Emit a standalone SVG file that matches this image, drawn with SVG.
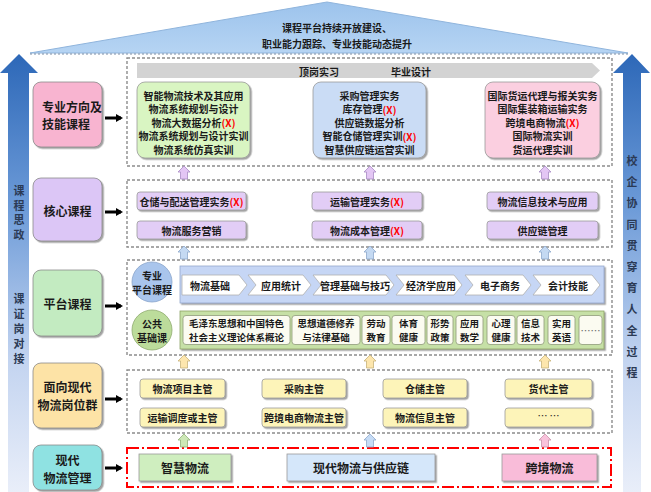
<svg xmlns="http://www.w3.org/2000/svg" width="651" height="492" viewBox="0 0 651 492">
<defs>
<linearGradient id="gL" x1="0" y1="0" x2="0" y2="1">
<stop offset="0" stop-color="#2d68b8"/>
<stop offset="0.35" stop-color="#6d9bd8"/>
<stop offset="0.7" stop-color="#c3d4f0"/>
<stop offset="1" stop-color="#e9eef9"/>
</linearGradient>
<linearGradient id="gRoof" x1="0" y1="0" x2="0" y2="1">
<stop offset="0" stop-color="#9cc3ec"/>
<stop offset="1" stop-color="#b6d4f3"/>
</linearGradient>
<filter id="sh" x="-10%" y="-10%" width="130%" height="140%">
<feDropShadow dx="1.5" dy="1.5" stdDeviation="0.7" flood-color="#555" flood-opacity="0.55"/>
</filter>
<path id="ua" d="M0,0 L6,6 L3.5,6 L3.5,13 L-3.5,13 L-3.5,6 L-6,6 Z"/>
<marker id="ah" markerWidth="7" markerHeight="8" refX="5" refY="4" orient="auto" markerUnits="userSpaceOnUse" viewBox="0 0 7 8">
<path d="M0,0 L7,4 L0,8 Z" fill="#000"/>
</marker>
</defs>
<style>
text{font-family:"Noto Sans CJK SC","Noto Sans CJK JP",sans-serif;font-weight:bold;fill:#1a1a1a;dominant-baseline:central;text-anchor:middle}
.t10{font-size:10px}
.t9{font-size:9.5px}
.t12{font-size:12px}
.x{fill:#ff0000}
.side{font-size:11px;fill:#2b3a55}
.lb{stroke:#8a8a8a;stroke-width:0.8;filter:url(#sh)}
.cont{fill:none;stroke:#8c8c8c;stroke-width:1.4;stroke-dasharray:3,2}
.red{fill:none;stroke:#ff0000;stroke-width:2;stroke-dasharray:12,3,2,3}
.ib{stroke:#9a9a9a;stroke-width:0.8;filter:url(#sh)}
.ua1{fill:#e3c6f4;stroke:#a88cc4;stroke-width:0.8}
.ua2{fill:#c4d9f2;stroke:#8ea8cc;stroke-width:0.8}
.ua3{fill:#fde6ad;stroke:#c8b27a;stroke-width:0.8}
.uag{fill:#cde8b6;stroke:#90b078;stroke-width:0.8}
.uab{fill:#c6dcf6;stroke:#8ea8cc;stroke-width:0.8}
.uap{fill:#f8c2db;stroke:#c890a8;stroke-width:0.8}
.chev{fill:#ffffff;stroke:#b0b0b0;stroke-width:0.8}
.wb{fill:#fbfbf1;stroke:#8f9a7a;stroke-width:0.8}
</style>

<g id="roof">
<polygon points="30,53 327,2 628,53" fill="url(#gRoof)" stroke="#8fb4dc" stroke-width="1"/>
<line x1="30" y1="54" x2="628" y2="54" stroke="#7d8fa8" stroke-width="1.2" stroke-dasharray="2,2"/>
<text class="t10" x="337" y="27">课程平台持续开放建设、</text>
<text class="t10" x="337" y="43">职业能力跟踪、专业技能动态提升</text>
</g>

<g id="left-arrow">
<polygon points="19,54 38,73 29,73 29,492 8,492 8,73 0,73" fill="url(#gL)"/>
<text class="side" x="19" y="190">课</text>
<text class="side" x="19" y="204.5">程</text>
<text class="side" x="19" y="219">思</text>
<text class="side" x="19" y="233.5">政</text>
<text class="side" x="19" y="298">课</text>
<text class="side" x="19" y="313">证</text>
<text class="side" x="19" y="328">岗</text>
<text class="side" x="19" y="343">对</text>
<text class="side" x="19" y="358">接</text>
</g>

<g id="right-arrow">
<polygon points="632,54 650,73 641,73 641,492 623,492 623,73 613,73" fill="url(#gL)"/>
<text class="side" x="632" y="160">校</text>
<text class="side" x="632" y="181.2">企</text>
<text class="side" x="632" y="202.4">协</text>
<text class="side" x="632" y="223.6">同</text>
<text class="side" x="632" y="244.8">贯</text>
<text class="side" x="632" y="266">穿</text>
<text class="side" x="632" y="287.2">育</text>
<text class="side" x="632" y="308.4">人</text>
<text class="side" x="632" y="329.6">全</text>
<text class="side" x="632" y="350.8">过</text>
<text class="side" x="632" y="372">程</text>
</g>

<g id="label-zhuanye">
<rect class="lb" x="33" y="82" width="69" height="65" rx="8" fill="#f8b4d0"/>
<text class="t12" x="42" y="106" style="text-anchor:start">专业方向及</text>
<text class="t12" x="42" y="123" style="text-anchor:start">技能课程</text>
</g>
<g id="label-hexin">
<rect class="lb" x="33" y="178" width="69" height="63" rx="8" fill="#dcc6f6"/>
<text class="t12" x="67.5" y="210">核心课程</text>
</g>
<g id="label-pingtai">
<rect class="lb" x="33" y="270" width="69" height="66" rx="8" fill="#c3ebc1"/>
<text class="t12" x="67.5" y="303">平台课程</text>
</g>
<g id="label-gangwei">
<rect class="lb" x="33" y="363" width="69" height="65" rx="8" fill="#fde3a6"/>
<text class="t12" x="67.5" y="386">面向现代</text>
<text class="t12" x="67.5" y="404">物流岗位群</text>
</g>
<g id="label-zhuanyeming">
<rect class="lb" x="33" y="445" width="69" height="45" rx="8" fill="#8fe2e2"/>
<text class="t12" x="67.5" y="459">现代</text>
<text class="t12" x="67.5" y="477">物流管理</text>
</g>

<g id="row1">
<rect class="cont" x="127" y="58" width="485" height="108"/>
<polygon points="137,63 592,63 600,70.5 592,78 137,78" fill="#d3d3d3"/>
<text class="t10" x="319" y="71">顶岗实习</text>
<text class="t10" x="411" y="71">毕业设计</text>
<g id="dir-zhineng">
<rect class="ib" x="137" y="82" width="113" height="76" rx="8" fill="#d9f5c2"/>
<text class="t10" x="193.5" y="95">智能物流技术及其应用</text>
<text class="t10" x="193.5" y="108.5">物流系统规划与设计</text>
<text class="t10" x="193.5" y="122">物流大数据分析<tspan class="x">(X)</tspan></text>
<text class="t10" x="193.5" y="135.5">物流系统规划与设计实训</text>
<text class="t10" x="193.5" y="149">物流系统仿真实训</text>
</g>
<g id="dir-gongyinglian">
<rect class="ib" x="313" y="82" width="113" height="76" rx="8" fill="#cadcf5"/>
<text class="t10" x="369.5" y="95">采购管理实务</text>
<text class="t10" x="369.5" y="108.5">库存管理<tspan class="x">(X)</tspan></text>
<text class="t10" x="369.5" y="122">供应链数据分析</text>
<text class="t10" x="369.5" y="135.5">智能仓储管理实训<tspan class="x">(X)</tspan></text>
<text class="t10" x="369.5" y="149">智慧供应链运营实训</text>
</g>
<g id="dir-kuajing">
<rect class="ib" x="485" y="82" width="115" height="76" rx="8" fill="#fbcfe0"/>
<text class="t10" x="542.5" y="95">国际货运代理与报关实务</text>
<text class="t10" x="542.5" y="108.5">国际集装箱运输实务</text>
<text class="t10" x="542.5" y="122">跨境电商物流<tspan class="x">(X)</tspan></text>
<text class="t10" x="542.5" y="135.5">国际物流实训</text>
<text class="t10" x="542.5" y="149">货运代理实训</text>
</g>
</g>

<g id="row2">
<rect class="cont" x="127" y="180" width="485" height="67"/>
<g fill="#e2cdf6">
<rect class="ib" x="137" y="192" width="109" height="18" rx="3"/>
<rect class="ib" x="312" y="192" width="110" height="18" rx="3"/>
<rect class="ib" x="487" y="192" width="111" height="18" rx="3"/>
<rect class="ib" x="137" y="221" width="109" height="18" rx="3"/>
<rect class="ib" x="312" y="221" width="110" height="18" rx="3"/>
<rect class="ib" x="487" y="221" width="111" height="18" rx="3"/>
</g>
<text class="t10" x="191.5" y="201">仓储与配送管理实务<tspan class="x">(X)</tspan></text>
<text class="t10" x="367" y="201">运输管理实务<tspan class="x">(X)</tspan></text>
<text class="t10" x="542.5" y="201">物流信息技术与应用</text>
<text class="t10" x="191.5" y="230">物流服务营销</text>
<text class="t10" x="367" y="230">物流成本管理<tspan class="x">(X)</tspan></text>
<text class="t10" x="542.5" y="230">供应链管理</text>
</g>

<g id="row3">
<rect class="cont" x="127" y="260" width="485" height="95"/>
<g id="zhuanye-pingtai">
<circle cx="152" cy="282" r="20" fill="#a9c5ec" stroke="#8ca6cc" stroke-width="0.8"/>
<text class="t10" x="152" y="275">专业</text>
<text class="t10" x="152" y="289">平台课程</text>
<rect x="180" y="266" width="424" height="37" fill="#c6d6f5" stroke="#94a8cc" stroke-width="0.8" filter="url(#sh)"/>
<polygon class="chev" points="182,275 239,275 247,285 239,295 182,295"/>
<polygon class="chev" points="248,275 303,275 311,285 303,295 248,295 256,285"/>
<polygon class="chev" points="313,275 386,275 394,285 386,295 313,295 321,285"/>
<polygon class="chev" points="396,275 454,275 462,285 454,295 396,295 404,285"/>
<polygon class="chev" points="465,275 523,275 531,285 523,295 465,295 473,285"/>
<polygon class="chev" points="533,275 592,275 600,285 592,295 533,295 541,285"/>
<text class="t10" x="210" y="285">物流基础</text>
<text class="t10" x="281" y="285">应用统计</text>
<text class="t10" x="355" y="285">管理基础与技巧</text>
<text class="t10" x="431" y="285">经济学应用</text>
<text class="t10" x="500" y="285">电子商务</text>
<text class="t10" x="568" y="285">会计技能</text>
</g>
<g id="gonggong-jichu">
<circle cx="152" cy="330" r="20" fill="#bcdc9b" stroke="#8fab70" stroke-width="0.8"/>
<text class="t10" x="152" y="323">公共</text>
<text class="t10" x="152" y="337">基础课</text>
<rect x="180" y="311" width="424" height="38" fill="#c6e0a6" stroke="#8ea468" stroke-width="0.8" filter="url(#sh)"/>
<rect class="wb" x="183" y="315.5" width="107" height="29" rx="3"/>
<rect class="wb" x="292" y="315.5" width="68" height="29" rx="3"/>
<rect class="wb" x="362" y="315.5" width="28" height="29" rx="3"/>
<rect class="wb" x="392" y="315.5" width="33" height="29" rx="3"/>
<rect class="wb" x="427" y="315.5" width="26" height="29" rx="3"/>
<rect class="wb" x="456" y="315.5" width="27" height="29" rx="3"/>
<rect class="wb" x="487" y="315.5" width="28" height="29" rx="3"/>
<rect class="wb" x="517" y="315.5" width="27" height="29" rx="3"/>
<rect class="wb" x="548" y="315.5" width="27" height="29" rx="3"/>
<rect class="wb" x="579" y="315.5" width="23" height="29" rx="3"/>
<text class="t9" x="236.5" y="323">毛泽东思想和中国特色</text>
<text class="t9" x="236.5" y="337">社会主义理论体系概论</text>
<text class="t9" x="326" y="323">思想道德修养</text>
<text class="t9" x="326" y="337">与法律基础</text>
<text class="t9" x="376" y="323">劳动</text>
<text class="t9" x="376" y="337">教育</text>
<text class="t9" x="408.5" y="323">体育</text>
<text class="t9" x="408.5" y="337">健康</text>
<text class="t9" x="440" y="323">形势</text>
<text class="t9" x="440" y="337">政策</text>
<text class="t9" x="469.5" y="323">应用</text>
<text class="t9" x="469.5" y="337">数学</text>
<text class="t9" x="501" y="323">心理</text>
<text class="t9" x="501" y="337">健康</text>
<text class="t9" x="530.5" y="323">信息</text>
<text class="t9" x="530.5" y="337">技术</text>
<text class="t9" x="561.5" y="323">实用</text>
<text class="t9" x="561.5" y="337">英语</text>
<text class="t10" x="590.5" y="330" style="font-weight:normal;fill:#666">……</text>
</g>
</g>

<g id="row4">
<rect class="cont" x="127" y="370" width="485" height="63"/>
<g fill="#fdf4b9">
<rect class="ib" x="140" y="379" width="85" height="19" rx="3"/>
<rect class="ib" x="262" y="379" width="84" height="19" rx="3"/>
<rect class="ib" x="383" y="379" width="84" height="19" rx="3"/>
<rect class="ib" x="505" y="379" width="87" height="19" rx="3"/>
<rect class="ib" x="140" y="408" width="85" height="19" rx="3"/>
<rect class="ib" x="262" y="408" width="84" height="19" rx="3"/>
<rect class="ib" x="383" y="408" width="84" height="19" rx="3"/>
<rect class="ib" x="505" y="408" width="87" height="19" rx="3"/>
</g>
<text class="t10" x="182.5" y="388.5">物流项目主管</text>
<text class="t10" x="304" y="388.5">采购主管</text>
<text class="t10" x="425" y="388.5">仓储主管</text>
<text class="t10" x="548.5" y="388.5">货代主管</text>
<text class="t10" x="182.5" y="417.5">运输调度或主管</text>
<text class="t10" x="304" y="417.5">跨境电商物流主管</text>
<text class="t10" x="425" y="417.5">物流信息主管</text>
<text class="t10" x="548.5" y="415" style="font-weight:normal">… …</text>
</g>

<g id="row5">
<rect class="red" x="127" y="448" width="484" height="39"/>
<rect class="ib" x="139" y="454" width="92" height="27" fill="#cfeebf"/>
<rect class="ib" x="287" y="454" width="148" height="27" fill="#d5e7fa"/>
<rect class="ib" x="502" y="454" width="95" height="27" fill="#f9bcd9"/>
<text class="t12" x="185" y="467.5">智慧物流</text>
<text class="t12" x="361" y="467.5">现代物流与供应链</text>
<text class="t12" x="549.5" y="467.5">跨境物流</text>
</g>

<g id="connectors">
<g stroke="#000" stroke-width="3" marker-end="url(#ah)">
<line x1="105" y1="118" x2="121" y2="118"/>
<line x1="105" y1="212" x2="121" y2="212"/>
<line x1="105" y1="306" x2="121" y2="306"/>
<line x1="105" y1="399" x2="121" y2="399"/>
<line x1="105" y1="468" x2="121" y2="468"/>
</g>
<use href="#ua" x="184" y="166" class="ua1"/>
<use href="#ua" x="370" y="166" class="ua1"/>
<use href="#ua" x="545" y="166" class="ua1"/>
<use href="#ua" x="184" y="246" class="ua2"/>
<use href="#ua" x="370" y="246" class="ua2"/>
<use href="#ua" x="545" y="246" class="ua2"/>
<use href="#ua" x="184" y="355" class="ua3"/>
<use href="#ua" x="370" y="355" class="ua3"/>
<use href="#ua" x="545" y="355" class="ua3"/>
<use href="#ua" x="184" y="434" class="uag"/>
<use href="#ua" x="370" y="434" class="uab"/>
<use href="#ua" x="545" y="434" class="uap"/>
</g>
</svg>
